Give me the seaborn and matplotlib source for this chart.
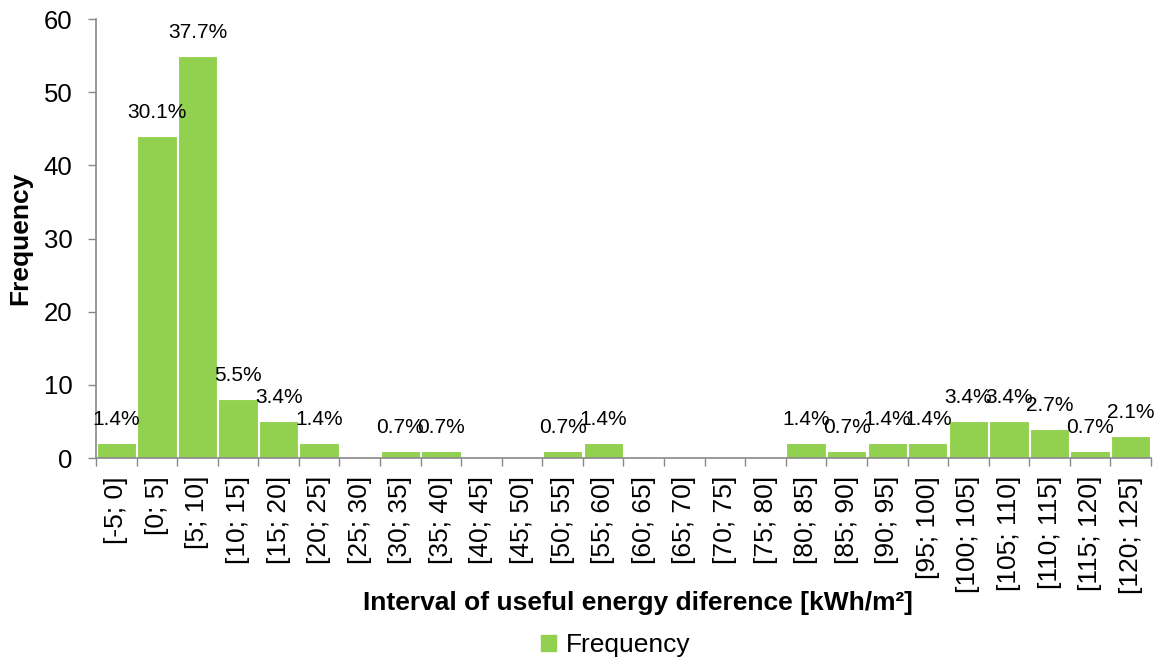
import matplotlib.pyplot as plt
import numpy as np
import seaborn as sns
from matplotlib.patches import Patch

sns.set_theme(style="white")
plt.rcParams["font.family"] = ["Liberation Sans", "DejaVu Sans"]
plt.rcParams["text.color"] = "black"
plt.rcParams["axes.labelcolor"] = "black"
plt.rcParams["xtick.color"] = "black"
plt.rcParams["ytick.color"] = "black"

intervals = ["[-5; 0]", "[0; 5]", "[5; 10]", "[10; 15]", "[15; 20]", "[20; 25]",
             "[25; 30]", "[30; 35]", "[35; 40]", "[40; 45]", "[45; 50]", "[50; 55]",
             "[55; 60]", "[60; 65]", "[65; 70]", "[70; 75]", "[75; 80]", "[80; 85]",
             "[85; 90]", "[90; 95]", "[95; 100]", "[100; 105]", "[105; 110]",
             "[110; 115]", "[115; 120]", "[120; 125]"]
frequency = [2, 44, 55, 8, 5, 2, 0, 1, 1, 0, 0, 1, 2, 0, 0, 0, 0, 2, 1, 2, 2, 5, 5, 4, 1, 3]
pct_labels = ["1.4%", "30.1%", "37.7%", "5.5%", "3.4%", "1.4%", "", "0.7%", "0.7%", "", "",
              "0.7%", "1.4%", "", "", "", "", "1.4%", "0.7%", "1.4%", "1.4%", "3.4%",
              "3.4%", "2.7%", "0.7%", "2.1%"]

bar_color = "#92D050"
axis_grey = "#898989"

fig = plt.figure(figsize=(11.69, 6.59), dpi=100)
ax = fig.add_axes([0.0821, 0.305, 0.9025, 0.666])

sns.barplot(x=intervals, y=frequency, color=bar_color, width=0.97,
            edgecolor="white", linewidth=0.8, saturation=1, ax=ax)

for i, (v, lab) in enumerate(zip(frequency, pct_labels)):
    if lab:
        ax.annotate(lab, (i, v), xytext=(0, 17), textcoords="offset points",
                    ha="center", va="center", fontsize=15, color="black")

ax.set_xlim(-0.5, len(intervals) - 0.5)
ax.set_ylim(0, 60)
ax.set_yticks(np.arange(0, 61, 10))
ax.tick_params(axis="y", labelsize=18.5, length=6, width=1, color=axis_grey,
               direction="out", left=True, pad=11)
ax.set_xticks(np.arange(len(intervals)))
ax.set_xticklabels(intervals, rotation=90, fontsize=19)
ax.tick_params(axis="x", which="major", length=0, pad=13)
ax.set_xticks(np.arange(len(intervals) + 1) - 0.5, minor=True)
ax.tick_params(axis="x", which="minor", length=6, width=1, color=axis_grey,
               direction="out", bottom=True)

for side in ["top", "right"]:
    ax.spines[side].set_visible(False)
for side in ["left", "bottom"]:
    ax.spines[side].set_color(axis_grey)
    ax.spines[side].set_linewidth(1.2)

ax.set_ylabel("Frequency", fontsize=19, fontweight="bold")
ax.yaxis.set_label_coords(-0.06, 0.5)
ax.set_xlabel("Interval of useful energy diference [kWh/m²]", fontsize=19,
              fontweight="bold")
ax.xaxis.set_label_coords(0.514, -0.303)

fig.legend(handles=[Patch(color=bar_color, label="Frequency")], loc="center",
           bbox_to_anchor=(0.527, 0.021), frameon=False, fontsize=19,
           handlelength=0.55, handleheight=0.55, handletextpad=0.4)

fig.savefig("out.png", dpi=100)
